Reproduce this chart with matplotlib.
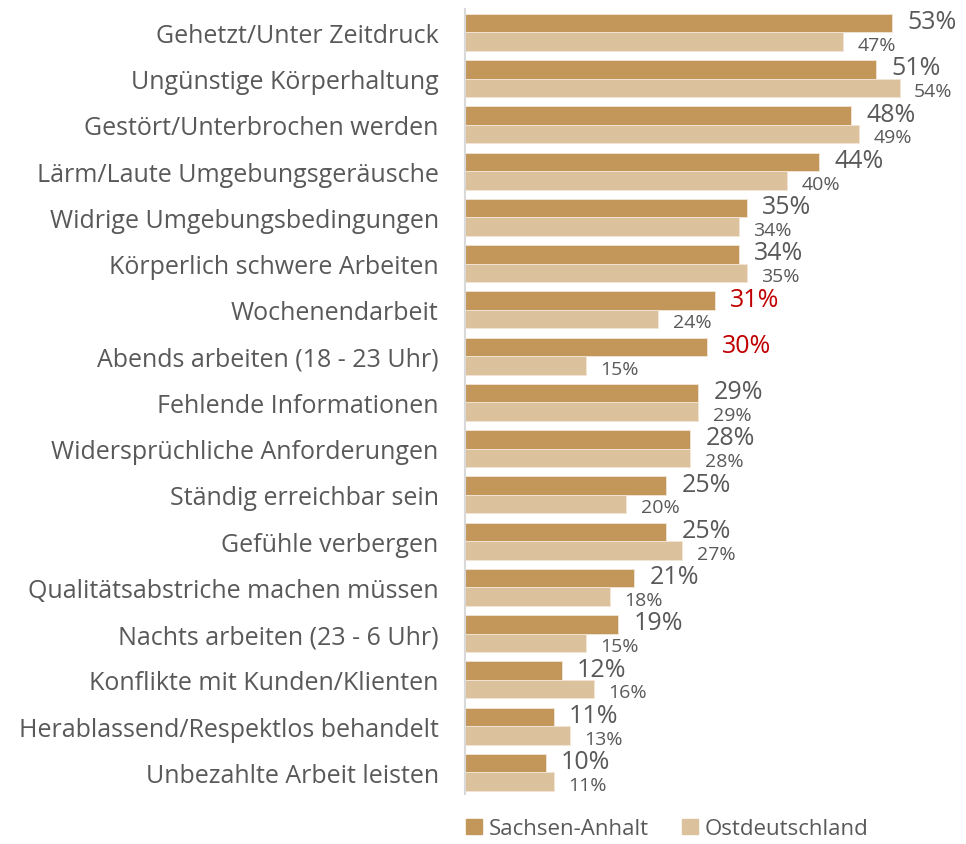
import matplotlib
matplotlib.use("Agg")
import numpy as np
import matplotlib.pyplot as plt
from matplotlib.patches import Patch

plt.rcParams['font.family'] = ['Open Sans', 'DejaVu Sans']

categories = ['Gehetzt/Unter Zeitdruck', 'Ungünstige Körperhaltung',
              'Gestört/Unterbrochen werden', 'Lärm/Laute Umgebungsgeräusche',
              'Widrige Umgebungsbedingungen', 'Körperlich schwere Arbeiten',
              'Wochenendarbeit', 'Abends arbeiten (18 - 23 Uhr)',
              'Fehlende Informationen', 'Widersprüchliche Anforderungen',
              'Ständig erreichbar sein', 'Gefühle verbergen',
              'Qualitätsabstriche machen müssen', 'Nachts arbeiten (23 - 6 Uhr)',
              'Konflikte mit Kunden/Klienten', 'Herablassend/Respektlos behandelt',
              'Unbezahlte Arbeit leisten']
sachsen_anhalt = [53, 51, 48, 44, 35, 34, 31, 30, 29, 28, 25, 25, 21, 19, 12, 11, 10]
ostdeutschland = [47, 54, 49, 40, 34, 35, 24, 15, 29, 28, 20, 27, 18, 15, 16, 13, 11]
highlight = ['Wochenendarbeit', 'Abends arbeiten (18 - 23 Uhr)']

c_sa = '#C3975A'
c_od = '#DBC19C'
grey = '#595959'
red = '#C00000'

fig = plt.figure(figsize=(9.66, 8.45), dpi=100)
ax = fig.add_axes([0.4814, 0.059, 0.50, 0.929])

y = np.arange(len(categories))
h = 0.4
ax.barh(y - h/2, sachsen_anhalt, height=h, color=c_sa, edgecolor='#F2E6D6', linewidth=0.6)
ax.barh(y + h/2, ostdeutschland, height=h, color=c_od, edgecolor='#F2E6D6', linewidth=0.6)

for i, cat in enumerate(categories):
    col = red if cat in highlight else grey
    ax.text(sachsen_anhalt[i] + 1.9, y[i] - h/2 - 0.03, f'{sachsen_anhalt[i]}%',
            ha='left', va='center', fontsize=18, color=col)
    ax.text(ostdeutschland[i] + 1.8, y[i] + h/2 + 0.07, f'{ostdeutschland[i]}%',
            ha='left', va='center', fontsize=14, color=grey)

ax.set_xlim(0, 60)
ax.set_ylim(16.47, -0.5)
ax.set_yticks(y)
ax.set_yticklabels(categories, fontsize=18, color=grey)
ax.tick_params(axis='y', length=0, pad=19)
ax.set_xticks([])
for s in ['top', 'right', 'bottom']:
    ax.spines[s].set_visible(False)
ax.spines['left'].set_color('#D9D9D9')
ax.spines['left'].set_linewidth(1.5)

handles = [Patch(color=c_sa, label='Sachsen-Anhalt'),
           Patch(color=c_od, label='Ostdeutschland')]
leg = fig.legend(handles=handles, loc='lower left', bbox_to_anchor=(0.462, -0.018),
                 ncol=2, frameon=False, fontsize=16, handlelength=0.7, handleheight=0.7,
                 handletextpad=0.3, columnspacing=1.5)
for t in leg.get_texts():
    t.set_color(grey)

plt.savefig('out.png', dpi=100)
